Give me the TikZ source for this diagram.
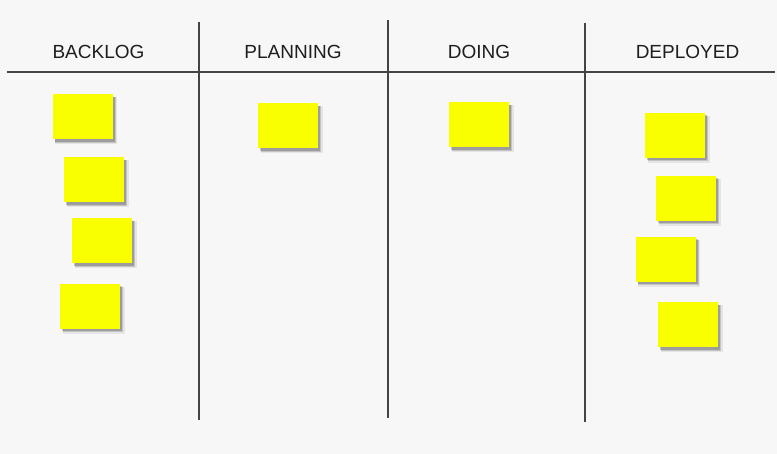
\documentclass[tikz,border=0pt]{standalone}
\usepackage{fontspec}
\setmainfont{Liberation Sans}
\usetikzlibrary{shadows}
\definecolor{bg}{HTML}{F7F7F7}
\definecolor{rule}{HTML}{444444}
\definecolor{note}{HTML}{FAFF00}
\definecolor{ink}{HTML}{1E1E1E}
\tikzset{
  boardline/.style={draw=rule, line width=2.2pt},
  header/.style={anchor=base, font=\fontsize{19}{22}\selectfont, text=ink, inner sep=0pt},
  sticky/.style={fill=note, minimum width=60pt, minimum height=45pt, inner sep=0pt,
    general shadow={shadow xshift=3.6pt, shadow yshift=-3.6pt, fill=black, opacity=0.07, shadow scale=1.04},
    general shadow={shadow xshift=3pt, shadow yshift=-3pt, fill=black, opacity=0.14, shadow scale=1.01},
    general shadow={shadow xshift=2.2pt, shadow yshift=-2.2pt, fill=black, opacity=0.2}}
}
\begin{document}
\begin{tikzpicture}[x=1pt, y=-1pt]
\fill[bg] (0,0) rectangle (777,454);
\useasboundingbox (0,0) rectangle (777,454);
% board lines
\coordinate (hl) at (7,72);
\coordinate (hr) at (775,72);
\coordinate (v1t) at (199,22);
\coordinate (v1b) at (199,420);
\coordinate (v2t) at (388,20);
\coordinate (v2b) at (388,418);
\coordinate (v3t) at (585,23);
\coordinate (v3b) at (585,422);
\draw[boardline] (hl) -- (hr);
\draw[boardline] (v1t) -- (v1b);
\draw[boardline] (v2t) -- (v2b);
\draw[boardline] (v3t) -- (v3b);
% headers
\node[header] (hBacklog) at (98.5,59) {BACKLOG};
\node[header] (hPlanning) at (293,59) {PLANNING};
\node[header] (hDoing) at (479,59) {DOING};
\node[header] (hDeployed) at (687.5,59) {DEPLOYED};
% sticky notes
\node[sticky] (b1) at (82.5,117) {};
\node[sticky] (b2) at (94,180) {};
\node[sticky] (b3) at (102,241) {};
\node[sticky] (b4) at (90,306.5) {};
\node[sticky] (p1) at (288,126) {};
\node[sticky] (d1) at (479,125) {};
\node[sticky] (e1) at (675,135.5) {};
\node[sticky] (e2) at (686,198.5) {};
\node[sticky] (e3) at (665.5,259.5) {};
\node[sticky] (e4) at (688,325) {};
\end{tikzpicture}
\end{document}
